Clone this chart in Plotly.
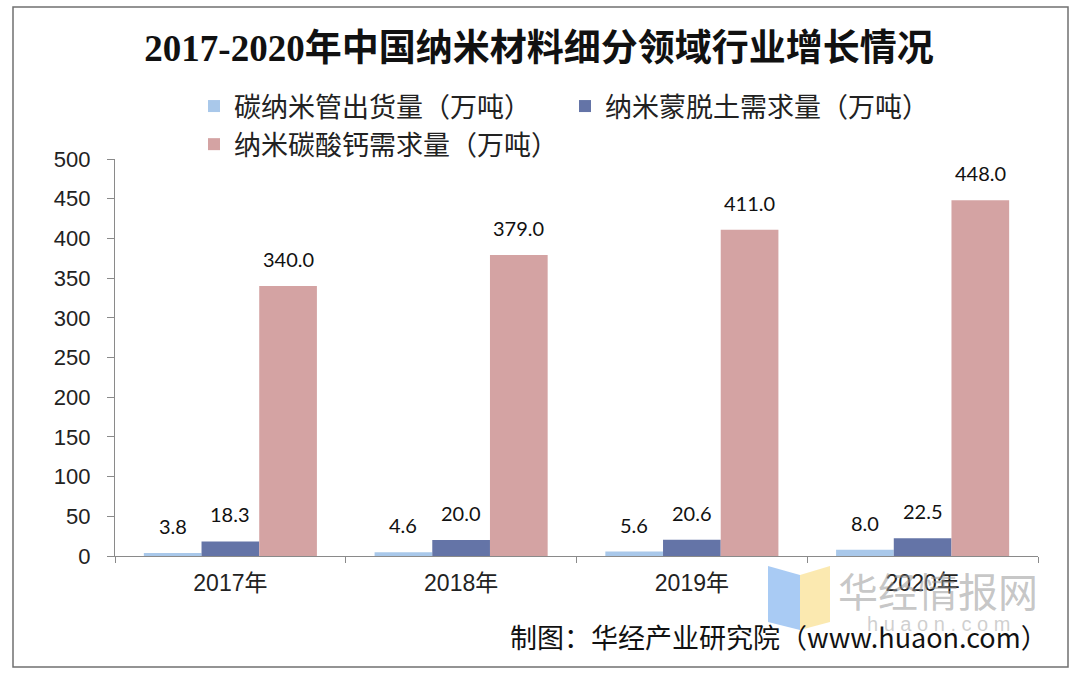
import plotly.graph_objects as go

# 数据
years = ["2017年", "2018年", "2019年", "2020年"]
cnt_ship = [3.8, 4.6, 5.6, 8.0]          # 碳纳米管出货量（万吨）
mmt_demand = [18.3, 20.0, 20.6, 22.5]    # 纳米蒙脱土需求量（万吨）
caco3_demand = [340.0, 379.0, 411.0, 448.0]  # 纳米碳酸钙需求量（万吨）

names = ["碳纳米管出货量（万吨）", "纳米蒙脱土需求量（万吨）", "纳米碳酸钙需求量（万吨）"]
colors = ["#A9C8EA", "#6474A7", "#D4A3A3"]
series = [cnt_ship, mmt_demand, caco3_demand]

W, H = 1078, 678
ml, mr, mt, mb = 115, 40, 159, 122
pw = W - ml - mr
ph = H - mt - mb
bar_px = pw / len(years) * 0.75 / 3

fig = go.Figure()
for name, vals, c in zip(names, series, colors):
    fig.add_trace(go.Bar(x=years, y=vals, name=name, marker_color=c,
                         marker_line_width=0))

# 数据标签
for i, vals in enumerate(series):
    for yr, v in zip(years, vals):
        fig.add_annotation(x=yr, y=v, text=f"{v:.1f}", showarrow=False,
                           xshift=(i - 1) * bar_px, yshift=27, yanchor="middle",
                           font=dict(family="Lato, Noto Sans CJK SC", size=20, color="#111111"))

fig.update_layout(
    width=W, height=H,
    margin=dict(l=ml, r=mr, t=mt, b=mb),
    paper_bgcolor="white", plot_bgcolor="white",
    barmode="group", bargap=0.25, bargroupgap=0,
    title=dict(text="<b>2017-2020年中国纳米材料细分领域行业增长情况</b>",
               x=0.5, xanchor="center", y=1 - 48 / H, yanchor="middle",
               font=dict(family="Liberation Serif, Noto Sans CJK SC", size=37, color="#111111")),
    legend=dict(orientation="h", x=(194 - ml) / pw, xanchor="left",
                y=1 + (mt - 82) / ph, yanchor="top",
                entrywidth=326, entrywidthmode="pixels", itemwidth=30,
                font=dict(family="Noto Sans CJK SC", size=27, color="#222222"),
                bgcolor="rgba(0,0,0,0)"),
    font=dict(family="Liberation Sans, Noto Sans CJK SC", color="#222222"),
    xaxis=dict(showline=True, linecolor="#8a8a8a", linewidth=1.2,
               ticks="outside", tickson="boundaries", ticklen=6, tickcolor="#8a8a8a",
               ticklabelstandoff=6,
               tickfont=dict(size=23, family="Liberation Sans, Noto Sans CJK SC"),
               showgrid=False),
    yaxis=dict(range=[0, 500], dtick=50, showline=True, linecolor="#8a8a8a", linewidth=1.2,
               ticks="outside", ticklen=7, tickcolor="#8a8a8a", ticklabelstandoff=12,
               tickfont=dict(size=22, family="Liberation Sans"),
               showgrid=False, zeroline=False),
)

# 外框
fig.add_shape(type="rect", xref="paper", yref="paper",
              x0=(13 - ml) / pw, x1=(1068 - ml) / pw,
              y0=-(667 - mt - ph) / ph, y1=1 + (mt - 7) / ph,
              line=dict(color="#707070", width=1.5), layer="below")

# 水印
fig.add_shape(type="path", xref="paper", yref="paper",
              path="M {x0},{y0} L {x1},{y1} L {x1},{y2} L {x0},{y3} Z".format(
                  x0=(768 - ml) / pw, x1=(800 - ml) / pw,
                  y0=(556 - 566) / ph, y1=(556 - 575) / ph,
                  y2=(556 - 630) / ph, y3=(556 - 622) / ph),
              fillcolor="rgba(140,185,240,0.75)", line_width=0)
fig.add_shape(type="path", xref="paper", yref="paper",
              path="M {x0},{y0} L {x1},{y1} L {x1},{y2} L {x0},{y3} Z".format(
                  x0=(800 - ml) / pw, x1=(830 - ml) / pw,
                  y0=(556 - 575) / ph, y1=(556 - 566) / ph,
                  y2=(556 - 622) / ph, y3=(556 - 630) / ph),
              fillcolor="rgba(250,225,150,0.75)", line_width=0)
fig.add_annotation(xref="paper", yref="paper", x=(938 - ml) / pw, y=(556 - 590) / ph,
                   text="华经情报网", showarrow=False, xanchor="center", yanchor="middle",
                   font=dict(family="Noto Sans CJK SC", size=40, color="rgba(150,150,150,0.55)"))
fig.add_annotation(xref="paper", yref="paper", x=(938 - ml) / pw, y=(556 - 624) / ph,
                   text="h u a o n . c o m", showarrow=False, xanchor="center", yanchor="middle",
                   font=dict(family="Liberation Sans", size=20, color="rgba(160,160,160,0.5)"))

# 来源
fig.add_annotation(xref="paper", yref="paper", x=(1050 - ml) / pw, y=(556 - 636) / ph,
                   text="制图：华经产业研究院（www.huaon.com）", showarrow=False,
                   xanchor="right", yanchor="middle",
                   font=dict(family="Noto Sans CJK SC", size=27, color="#111111"))

fig.write_html("out.html", config={"displayModeBar": False},
               post_script="document.body.style.margin='0';")
